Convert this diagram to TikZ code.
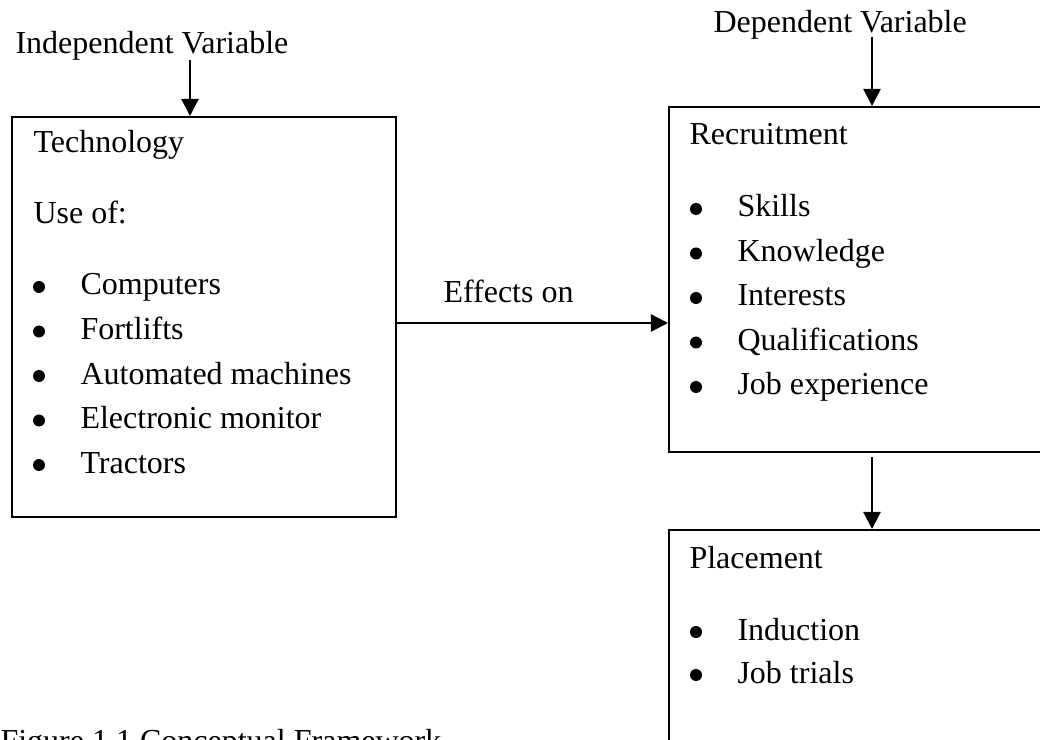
\documentclass[tikz,border=0pt]{standalone}
\usepackage{fontspec}
\setmainfont{Liberation Serif}
\usetikzlibrary{arrows.meta,positioning}

\begin{document}
\begin{tikzpicture}[>={Triangle[length=6.4pt,width=6.4pt]},x=0.375pt,y=-0.375pt,
  box/.style={draw,line width=0.8pt,rectangle,inner sep=0pt,anchor=north west},
  txt/.style={anchor=base west,inner sep=0pt,font=\fontsize{12}{14}\selectfont},
  dot/.style={circle,fill,inner sep=0pt,minimum size=4.5pt},
  conn/.style={->,line width=0.9pt}]
\clip (0,0) rectangle (1040,740);
% boxes
\node[box,minimum width=144pt,minimum height=150pt] (tech) at (11,116) {};
\node[box,minimum width=144pt,minimum height=129.4pt] (recruit) at (668,106) {};
\node[box,minimum width=144pt,minimum height=95pt] (place) at (668,529) {};
% labels
\node[txt] (indep) at (15,54) {Independent Variable};
\node[txt] (dep) at (713,33) {Dependent Variable};
\node[txt] (effects) at (443,303) {Effects on};
\node[txt] (caption) at (0,751) {Figure 1.1 Conceptual Framework};
\node[txt] (techtitle) at (33,153) {Technology};
\node[txt] (useof) at (33,224) {Use of:};
\foreach \lbl [count=\i] in {Computers,Fortlifts,Automated machines,Electronic monitor,Tractors}{
  \node[dot] (techb\i) at (39,242.5+44.5*\i) {};
  \node[txt] (techi\i) at (80,250.5+44.5*\i) {\lbl};
}
\node[txt] (rectitle) at (689,145) {Recruitment};
\foreach \lbl [count=\i] in {Skills,Knowledge,Interests,Qualifications,Job experience}{
  \node[dot] (recb\i) at (696,164.5+44.5*\i) {};
  \node[txt] (reci\i) at (737,172.5+44.5*\i) {\lbl};
}
\node[txt] (plctitle) at (689,568) {Placement};
\foreach \lbl [count=\i] in {Induction,Job trials}{
  \node[dot] (plcb\i) at (696,589+43*\i) {};
  \node[txt] (plci\i) at (737,597+43*\i) {\lbl};
}
% arrows
\coordinate (ivtip) at (190,60);
\coordinate (dvtip) at (872,37);
\coordinate (effy) at (0,323);
\draw[conn] (ivtip) -- (ivtip |- tech.north);
\draw[conn] (dvtip) -- (dvtip |- recruit.north);
\draw[conn] (tech.east |- effy) -- (recruit.west |- effy);
\draw[conn] ([yshift=-1.5pt]recruit.south -| dvtip) -- (place.north -| dvtip);
\end{tikzpicture}
\end{document}
